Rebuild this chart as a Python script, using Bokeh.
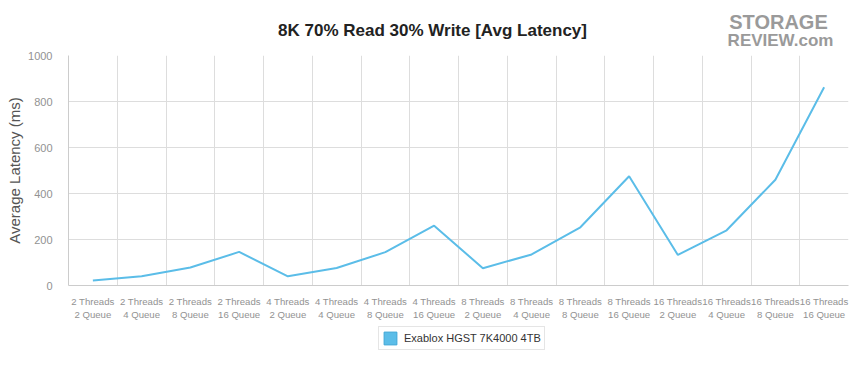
from bokeh.plotting import figure
from bokeh.layouts import column
from bokeh.models import (ColumnDataSource, FixedTicker, Legend, LegendItem, Range1d, Label)
from bokeh.embed import file_html
from bokeh.resources import INLINE

threads = ["2 Threads"] * 4 + ["4 Threads"] * 4 + ["8 Threads"] * 4 + ["16 Threads"] * 4
queues = ["2 Queue", "4 Queue", "8 Queue", "16 Queue"] * 4
latency = [22, 40, 78, 146, 40, 76, 145, 260, 75, 135, 253, 475, 133, 240, 460, 862]
series_name = "Exablox HGST 7K4000 4TB"
title_text = "8K 70% Read 30% Write [Avg Latency]"
y_ticks = [0, 200, 400, 600, 800, 1000]

n = len(latency)
xs = [i + 0.5 for i in range(n)]
labels = {x: f"{t}\n{q}" for x, t, q in zip(xs, threads, queues)}
src = ColumnDataSource(data=dict(x=xs, y=latency))

FONT = "Liberation Sans"
W = 850
LEFT, RIGHT = 68, 2
TOP_H, MAIN_H = 49, 274
BOT_H = 375 - TOP_H - MAIN_H


def bare(h, yr):
    # frames are aligned with the main plot's frame by the column layout
    f = figure(width=W, height=h, output_backend="svg", toolbar_location=None,
               x_range=Range1d(LEFT, W - RIGHT), y_range=yr,
               x_axis_type=None, y_axis_type=None,
               min_border=0, min_border_left=LEFT, min_border_right=RIGHT,
               min_border_top=0, min_border_bottom=0)
    f.outline_line_color = None
    f.xgrid.visible = False
    f.ygrid.visible = False
    return f


# --- header: title + logo (page pixel coordinates) ---
top = bare(TOP_H, Range1d(TOP_H, 0))
top.add_layout(Label(x=432, y=30, text=title_text, text_font=FONT, text_font_size="17px",
                     text_font_style="bold", text_color="#222222",
                     text_align="center", text_baseline="middle"))
top.add_layout(Label(x=778, y=21, text="STORAGE", text_font=FONT, text_font_size="20px",
                     text_font_style="bold", text_color="#9a9a9a",
                     text_align="center", text_baseline="middle"))
top.add_layout(Label(x=780, y=40, text="REVIEW.com", text_font=FONT, text_font_size="17px",
                     text_font_style="bold", text_color="#9a9a9a",
                     text_align="center", text_baseline="middle"))

# --- main plot ---
p = figure(width=W, height=MAIN_H, output_backend="svg", toolbar_location=None,
           x_range=Range1d(0, n), y_range=Range1d(0, 1000),
           min_border_left=LEFT, min_border_right=RIGHT, min_border_top=6, min_border_bottom=27)
p.line("x", "y", source=src, line_color="#5bbde8", line_width=2)

p.outline_line_color = None
p.xaxis.ticker = FixedTicker(ticks=xs)
p.xaxis.major_label_overrides = labels
p.xgrid.ticker = FixedTicker(ticks=list(range(n + 1)))
p.yaxis.ticker = FixedTicker(ticks=y_ticks)
for ax in (p.xaxis[0], p.yaxis[0]):
    ax.axis_line_color = "#cccccc"
    ax.major_tick_line_color = None
    ax.minor_tick_line_color = None
    ax.major_label_text_font = FONT
    ax.major_label_text_color = "#929292"
p.xaxis.major_label_text_font_size = "9.6px"
p.xaxis.major_label_text_line_height = 1.25
p.xaxis.major_label_standoff = 4
p.yaxis.major_label_text_font_size = "11px"
p.yaxis.major_label_standoff = 10
p.yaxis.axis_label = "Average Latency (ms)"
p.yaxis.axis_label_text_font = FONT
p.yaxis.axis_label_text_font_size = "15px"
p.yaxis.axis_label_text_font_style = "normal"
p.yaxis.axis_label_text_color = "#555555"
p.yaxis.axis_label_standoff = 2
p.xgrid.grid_line_color = "#dddddd"
p.ygrid.grid_line_color = "#dddddd"

# --- legend strip ---
bot = bare(BOT_H, Range1d(-1, 0))
swatch = bot.rect("x", "y", source=src, width=0, height=0, fill_color="#5bbde8",
                  line_color="#3fa7d6")
legend = Legend(items=[LegendItem(label=series_name, renderers=[swatch])],
                location=(378 - LEFT, 25), orientation="horizontal",
                label_text_font=FONT, label_text_font_size="11px", label_text_color="#333333",
                border_line_color="#cccccc", border_line_width=1,
                glyph_width=16, glyph_height=16, padding=3, margin=0, spacing=0,
                label_standoff=6, background_fill_color="white")
bot.add_layout(legend)

layout = column(top, p, bot, spacing=0)
open("out.html", "w").write(file_html(layout, INLINE))
